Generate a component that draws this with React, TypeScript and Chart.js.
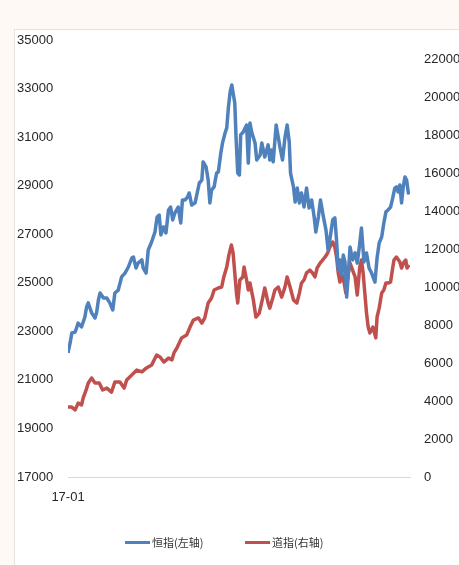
import React, { useEffect, useRef } from 'react';
import { Chart, registerables } from 'chart.js';

Chart.register(...registerables);

// First tick label of the date axis
const firstDateLabel = '17-01';
// Calendar days since the first date (2017-01-03)
const totalDays = 810;

const hsiDays = [0, 5, 9, 17, 21, 24, 32, 40, 44, 48, 52, 56, 64, 68, 72, 76, 84, 92, 99, 106, 111, 119, 127, 135, 143, 151, 155, 161, 166, 175, 178, 185, 190, 198, 206, 211, 216, 220, 226, 232, 238, 243, 248, 253, 261, 267, 271, 277, 283, 287, 293, 301, 305, 311, 317, 320, 327, 332, 336, 340, 346, 352, 356, 362, 366, 372, 376, 380, 384, 388, 391, 395, 398, 402, 406, 409, 415, 423, 427, 431, 435, 443, 447, 455, 459, 466, 474, 478, 482, 486, 493, 498, 502, 508, 514, 519, 524, 527, 534, 538, 543, 548, 553, 559, 565, 571, 577, 583, 587, 593, 598, 605, 611, 616, 620, 627, 632, 636, 640, 644, 648, 652, 656, 660, 664, 668, 674, 680, 685, 690, 695, 701, 707, 713, 719, 727, 732, 737, 743, 748, 753, 758, 764, 769, 774, 778, 782, 786, 790, 794, 798, 802, 806, 810];
const hsiValues = [22110, 22520, 22930, 22970, 23180, 23340, 23180, 23590, 24000, 24170, 23960, 23760, 23550, 23800, 24290, 24580, 24370, 24370, 24170, 23880, 24580, 24700, 25240, 25400, 25650, 26020, 26060, 25610, 25810, 25940, 25610, 25400, 26350, 26680, 27090, 27710, 27790, 26970, 27300, 27050, 28000, 28120, 27590, 27870, 28120, 27460, 28410, 28410, 28530, 28700, 28200, 28290, 28620, 29110, 29230, 29980, 29770, 29230, 28290, 28820, 28950, 29520, 29560, 30350, 30760, 31170, 31380, 32240, 32860, 33150, 32820, 32410, 31000, 29520, 29440, 31090, 31210, 31500, 29930, 31580, 31210, 30760, 30060, 30260, 30760, 30180, 30680, 30060, 30470, 29980, 31500, 31000, 30590, 30060, 31000, 31500, 30800, 29520, 28950, 28330, 28900, 28290, 28700, 28120, 28900, 28080, 28410, 27710, 27090, 27710, 28410, 27710, 27170, 26350, 26760, 27590, 27670, 26760, 25530, 25940, 25320, 26140, 25860, 24410, 25400, 26470, 25940, 26230, 25810, 26470, 27260, 25860, 26230, 25610, 25400, 25030, 26020, 26640, 26890, 27460, 27920, 28000, 28120, 28490, 28900, 28950, 28740, 29030, 28290, 28950, 29360, 29230, 28700, 28740];

const djiDays = [0, 9, 17, 24, 32, 36, 43, 48, 56, 64, 74, 82, 92, 103, 111, 123, 133, 139, 151, 163, 175, 186, 198, 210, 218, 227, 238, 246, 251, 259, 269, 281, 289, 297, 309, 317, 324, 332, 340, 346, 356, 364, 369, 376, 381, 387, 391, 395, 399, 402, 407, 414, 417, 423, 427, 431, 439, 445, 453, 461, 466, 474, 478, 485, 490, 498, 506, 514, 519, 526, 534, 542, 548, 553, 559, 565, 573, 579, 585, 590, 597, 603, 609, 615, 620, 627, 632, 636, 640, 644, 648, 654, 658, 664, 668, 674, 680, 685, 691, 695, 699, 703, 707, 711, 715, 722, 726, 729, 732, 737, 743, 748, 753, 758, 764, 769, 772, 778, 786, 790, 796, 800, 803, 808];
const djiValues = [3680, 3680, 3530, 3890, 3790, 4160, 4580, 4950, 5210, 4950, 4950, 4580, 4680, 4470, 5000, 5000, 4680, 5110, 5370, 5630, 5530, 5740, 5890, 6420, 6320, 6050, 6260, 6160, 6530, 6840, 7320, 7470, 7890, 8260, 8370, 8100, 8370, 9160, 9420, 9840, 9950, 10000, 10530, 11050, 11680, 12210, 11790, 10740, 9680, 9160, 10370, 10530, 11050, 10370, 9840, 10210, 9320, 8420, 8630, 9420, 9950, 9160, 8890, 9420, 9840, 10000, 9470, 10000, 10530, 10000, 9320, 9160, 9680, 10210, 10370, 10740, 10890, 10740, 10530, 11000, 11260, 11420, 11580, 11790, 12100, 12370, 12100, 11580, 10740, 10260, 10740, 10210, 9680, 10740, 11260, 10890, 10530, 9580, 11050, 11420, 10740, 9680, 8630, 7890, 7580, 7890, 7580, 7320, 8420, 8890, 9680, 9840, 10210, 10210, 10260, 11000, 11420, 11580, 11320, 11000, 11320, 11420, 11000, 11160];

const leftTicks = [17000, 19000, 21000, 23000, 25000, 27000, 29000, 31000, 33000, 35000];
const rightTicks = [0, 2000, 4000, 6000, 8000, 10000, 12000, 14000, 16000, 18000, 20000, 22000];
const seriesNames = ['恒指(左轴)', '道指(右轴)'];

const BLUE = '#4F81BD';
const RED = '#C0504D';
const TICK_COLOR = '#262626';
const tickFont = { family: '"Liberation Sans", Arial, sans-serif', size: 13 };

export default function App() {
  const ref = useRef<HTMLCanvasElement>(null);

  useEffect(() => {
    document.body.style.margin = '0';
    const canvas = ref.current;
    if (!canvas) return;
    const chart = new Chart(canvas, {
      type: 'line',
      data: {
        datasets: [
          {
            label: seriesNames[0],
            data: hsiDays.map((d, i) => ({ x: d, y: hsiValues[i] })),
            yAxisID: 'y',
            borderColor: BLUE,
            backgroundColor: BLUE,
            borderWidth: 3.5,
            pointRadius: 0,
            tension: 0,
            borderJoinStyle: 'round',
          },
          {
            label: seriesNames[1],
            data: djiDays.map((d, i) => ({ x: d, y: djiValues[i] })),
            yAxisID: 'y1',
            borderColor: RED,
            backgroundColor: RED,
            borderWidth: 3.5,
            pointRadius: 0,
            tension: 0,
            borderJoinStyle: 'round',
          },
        ],
      },
      options: {
        animation: false,
        responsive: false,
        maintainAspectRatio: false,
        layout: { padding: { left: 2, right: 0, top: 10, bottom: 0 } },
        plugins: {
          legend: { display: false },
          tooltip: { enabled: false },
        },
        scales: {
          x: {
            type: 'linear',
            min: 0,
            max: totalDays,
            grid: { display: false, drawTicks: false },
            border: { display: true, color: '#d9d9d9', width: 1 },
            afterBuildTicks: (s: any) => {
              s.ticks = [{ value: 0 }];
            },
            afterFit: (s: any) => {
              s.height = 88;
            },
            ticks: {
              callback: () => firstDateLabel,
              padding: 13,
              maxRotation: 0,
              autoSkip: false,
              color: TICK_COLOR,
              font: tickFont,
            },
          },
          y: {
            type: 'linear',
            position: 'left',
            min: leftTicks[0],
            max: leftTicks[leftTicks.length - 1],
            grid: { display: false, drawTicks: false },
            border: { display: false },
            afterBuildTicks: (s: any) => {
              s.ticks = leftTicks.map((v) => ({ value: v }));
            },
            afterFit: (s: any) => {
              s.width = 51;
            },
            ticks: {
              crossAlign: 'far',
              padding: 0,
              color: TICK_COLOR,
              font: tickFont,
              callback: (v: any) => String(v),
            },
          },
          y1: {
            type: 'linear',
            position: 'right',
            min: 0,
            max: 23000,
            grid: {
              display: true,
              drawOnChartArea: false,
              drawTicks: true,
              tickLength: 14,
              color: 'rgba(0,0,0,0)',
            },
            border: { display: false },
            afterBuildTicks: (s: any) => {
              s.ticks = rightTicks.map((v) => ({ value: v }));
            },
            afterFit: (s: any) => {
              s.width = 49;
            },
            ticks: {
              padding: 0,
              color: TICK_COLOR,
              font: tickFont,
              callback: (v: any) => String(v),
            },
          },
        },
      },
    });
    return () => chart.destroy();
  }, []);

  const legendText: React.CSSProperties = {
    fontFamily: '"Noto Sans CJK SC", "Noto Sans", sans-serif',
    fontSize: 11,
    color: '#333333',
    lineHeight: '14px',
    whiteSpace: 'nowrap',
  };
  const item = (left: number, color: string, text: string) => (
    <div
      style={{
        position: 'absolute',
        left,
        top: 535,
        height: 14,
        display: 'flex',
        alignItems: 'center',
      }}
    >
      <span style={{ display: 'inline-block', width: 25, height: 3, background: color, marginRight: 2 }} />
      <span style={legendText}>{text}</span>
    </div>
  );

  return (
    <div
      style={{
        position: 'absolute',
        left: 0,
        top: 0,
        width: 459,
        height: 565,
        overflow: 'hidden',
        background: '#fef9f5',
      }}
    >
      <div
        style={{
          position: 'absolute',
          left: 14,
          top: 29,
          width: 445,
          height: 536,
          background: '#ffffff',
          borderLeft: '1px solid #e3e3e3',
          borderTop: '1px solid #e3e3e3',
          boxSizing: 'border-box',
        }}
      >
        <canvas ref={ref} width={444} height={535} style={{ display: 'block', width: 444, height: 535 }} />
      </div>
      {item(125, BLUE, seriesNames[0])}
      {item(245, RED, seriesNames[1])}
    </div>
  );
}
